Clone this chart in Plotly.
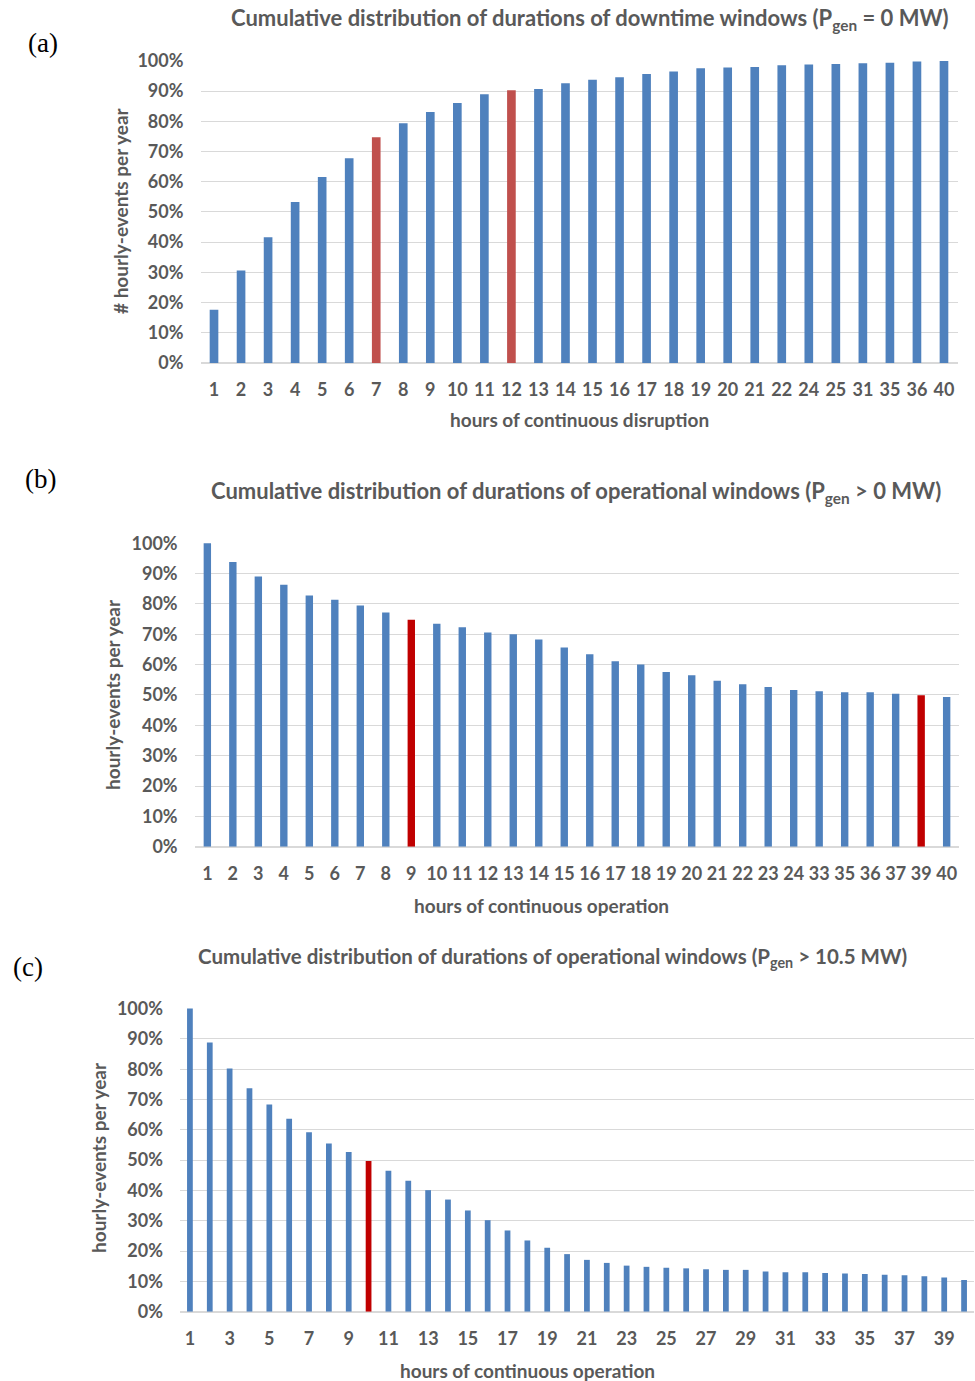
import plotly.graph_objects as go

# ---------------- data ----------------
a_hours = ["1", "2", "3", "4", "5", "6", "7", "8", "9", "10", "11", "12", "13", "14",
           "15", "16", "17", "18", "19", "20", "21", "22", "24", "25", "31", "35", "36", "40"]
a_values = [0.176, 0.306, 0.416, 0.533, 0.616, 0.678, 0.747, 0.794, 0.831, 0.861, 0.890,
            0.903, 0.907, 0.926, 0.938, 0.946, 0.957, 0.965, 0.976, 0.978, 0.980, 0.986,
            0.988, 0.990, 0.992, 0.994, 0.998, 1.000]
a_highlight = ["7", "12"]

b_hours = ["1", "2", "3", "4", "5", "6", "7", "8", "9", "10", "11", "12", "13", "14",
           "15", "16", "17", "18", "19", "20", "21", "22", "23", "24", "33", "35", "36",
           "37", "39", "40"]
b_values = [1.000, 0.938, 0.890, 0.863, 0.828, 0.814, 0.795, 0.772, 0.748, 0.735, 0.723,
            0.706, 0.700, 0.683, 0.656, 0.634, 0.611, 0.600, 0.576, 0.565, 0.547, 0.535,
            0.526, 0.516, 0.512, 0.509, 0.509, 0.504, 0.499, 0.493]
b_highlight = ["9", "39"]

c_hours = list(range(1, 41))
c_values = [1.000, 0.888, 0.802, 0.737, 0.684, 0.637, 0.592, 0.555, 0.527, 0.497, 0.465,
            0.432, 0.401, 0.370, 0.334, 0.302, 0.268, 0.235, 0.211, 0.190, 0.171, 0.161,
            0.152, 0.148, 0.145, 0.143, 0.140, 0.138, 0.138, 0.133, 0.130, 0.130, 0.128,
            0.126, 0.124, 0.122, 0.120, 0.117, 0.113, 0.105]
c_highlight = [10]
c_tickvals = list(range(1, 41, 2))

y_ticks = [0, 0.1, 0.2, 0.3, 0.4, 0.5, 0.6, 0.7, 0.8, 0.9, 1.0]

titles = [
    "Cumulative distribution of durations of downtime windows (P<sub>gen</sub> = 0 MW)",
    "Cumulative distribution of durations of operational windows (P<sub>gen</sub> > 0 MW)",
    "Cumulative distribution of durations of operational windows (P<sub>gen</sub> > 10.5 MW)",
]
x_titles = ["hours of continuous disruption", "hours of continuous operation",
            "hours of continuous operation"]
y_titles = ["# hourly-events per year", "hourly-events per year", "hourly-events per year"]
panel_labels = ["(a)", "(b)", "(c)"]

# ---------------- styles ----------------
W, H = 975, 1381
BLUE = "#4f81bd"
RED_A = "#c0504d"
RED_B = "#c00000"
GREY = "#595959"
GRID = "#d9d9d9"
FONT = "Lato"


def px_x(x):
    return x / W


def px_y(y):
    return 1 - y / H


fig = go.Figure()

fig.add_trace(go.Bar(
    x=a_hours, y=a_values, width=0.32,
    marker=dict(color=[RED_A if h in a_highlight else BLUE for h in a_hours], line=dict(width=0)),
    xaxis="x", yaxis="y", showlegend=False))
fig.add_trace(go.Bar(
    x=b_hours, y=b_values, width=0.29,
    marker=dict(color=[RED_B if h in b_highlight else BLUE for h in b_hours], line=dict(width=0)),
    xaxis="x2", yaxis="y2", showlegend=False))
fig.add_trace(go.Bar(
    x=c_hours, y=c_values, width=0.29,
    marker=dict(color=[RED_B if h in c_highlight else BLUE for h in c_hours], line=dict(width=0)),
    xaxis="x3", yaxis="y3", showlegend=False))

tickfont = dict(family=FONT, size=18, color=GREY, weight="bold")

# panel geometry (pixels): left, right, top(100%), bottom(0%)
geo = [
    (200.5, 957.5, 60, 363),
    (194.6, 959.4, 542.3, 846.7),
    (180.0, 974.0, 1007.7, 1311.7),
]

for i, (l, r, t, b) in enumerate(geo):
    sfx = "" if i == 0 else str(i + 1)
    xa = dict(domain=[px_x(l), px_x(r)], anchor="y" + sfx, showgrid=False,
              showline=False, zeroline=False, ticks="", tickfont=tickfont,
              ticklabelstandoff=14, automargin=False)
    if i < 2:
        xa.update(type="category")
    else:
        xa.update(range=[0.5, 40.5], tickvals=c_tickvals)
    ya = dict(domain=[px_y(b), px_y(t)], anchor="x" + sfx, range=[0, 1.003],
              tickvals=y_ticks, tickformat=".0%", showgrid=True, gridcolor=GRID,
              gridwidth=1, zeroline=True, zerolinecolor=GRID, zerolinewidth=1.5,
              showline=False, ticks="", tickfont=tickfont, ticklabelstandoff=16,
              automargin=False)
    fig.layout["xaxis" + sfx] = xa
    fig.layout["yaxis" + sfx] = ya

annotations = []
title_pos = [(590, 19, 22), (576, 492, 22), (552, 957, 20.5)]
xt_pos = [(579, 419), (541, 905), (527, 1370)]
yt_pos = [(120, 211), (113, 695), (98, 1158)]
pl_pos = [(43, 43), (40, 479), (28, 967)]

for i in range(3):
    tx, ty, ts = title_pos[i]
    annotations.append(dict(text=titles[i], x=px_x(tx), y=px_y(ty), xref="paper", yref="paper",
                            xanchor="center", yanchor="middle", showarrow=False,
                            font=dict(family=FONT, size=ts, color=GREY, weight="bold")))
    xx, xy = xt_pos[i]
    annotations.append(dict(text=x_titles[i], x=px_x(xx), y=px_y(xy), xref="paper", yref="paper",
                            xanchor="center", yanchor="middle", showarrow=False,
                            font=dict(family=FONT, size=19, color=GREY, weight="bold")))
    yx, yy = yt_pos[i]
    annotations.append(dict(text=y_titles[i], x=px_x(yx), y=px_y(yy), xref="paper", yref="paper",
                            xanchor="center", yanchor="middle", showarrow=False, textangle=-90,
                            font=dict(family=FONT, size=19, color=GREY, weight="bold")))
    px_, py_ = pl_pos[i]
    annotations.append(dict(text=panel_labels[i], x=px_x(px_), y=px_y(py_), xref="paper",
                            yref="paper", xanchor="center", yanchor="middle", showarrow=False,
                            font=dict(family="Liberation Serif", size=27, color="black")))

fig.update_layout(
    width=W, height=H,
    margin=dict(l=0, r=0, t=0, b=0, pad=0, autoexpand=False),
    paper_bgcolor="white", plot_bgcolor="white",
    annotations=annotations, bargap=0.7,
)

fig.write_html("out.html")
